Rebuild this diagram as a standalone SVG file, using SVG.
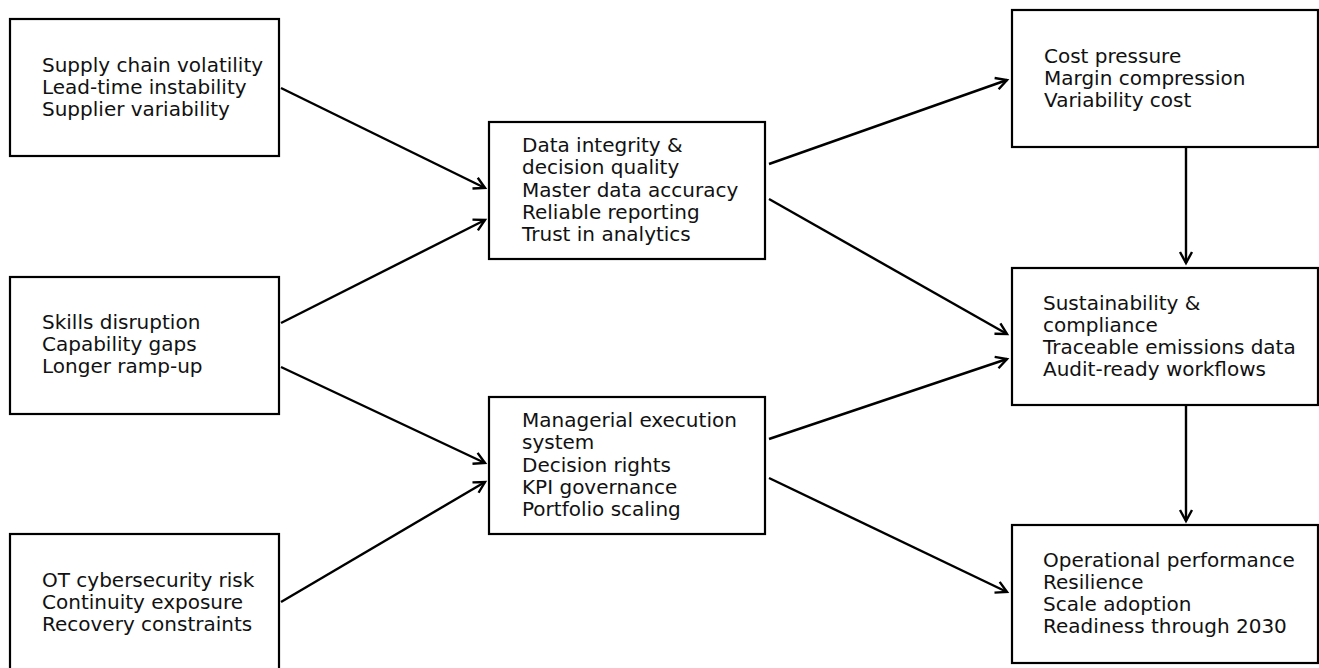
<svg xmlns="http://www.w3.org/2000/svg" width="1319" height="668" viewBox="0 0 1319 668">
<style>
.box{fill:#fff;stroke:#000;stroke-width:2.2}
.t{font-family:"DejaVu Sans",sans-serif;font-size:20px;fill:#111}
.c{stroke:#000;stroke-width:2.4;fill:none;marker-end:url(#ah)}
</style>
<defs>
<marker id="ah" markerUnits="userSpaceOnUse" markerWidth="16" markerHeight="16" refX="12" refY="8" orient="auto">
<path d="M1,2 L12,8 L1,14" fill="none" stroke="#000" stroke-width="2.4"/>
</marker>
</defs>
<rect width="1319" height="668" fill="#fff"/>
<g id="connectors">
<line class="c" x1="281" y1="88" x2="485" y2="188"/>
<line class="c" x1="281" y1="323" x2="485" y2="220"/>
<line class="c" x1="281" y1="367" x2="485" y2="463"/>
<line class="c" x1="281" y1="602" x2="485" y2="482"/>
<line class="c" x1="769" y1="164" x2="1007" y2="80"/>
<line class="c" x1="769" y1="199" x2="1007" y2="334"/>
<line class="c" x1="769" y1="439" x2="1007" y2="359"/>
<line class="c" x1="769" y1="478" x2="1007" y2="592"/>
<line class="c" x1="1186" y1="148" x2="1186" y2="263"/>
<line class="c" x1="1186" y1="406" x2="1186" y2="521"/>
</g>
<g id="n1">
<rect class="box" x="10" y="19" width="269" height="137"/>
<text class="t" x="42" y="72">Supply chain volatility</text>
<text class="t" x="42" y="94">Lead-time instability</text>
<text class="t" x="42" y="116">Supplier variability</text>
</g>
<g id="n2">
<rect class="box" x="10" y="277" width="269" height="137"/>
<text class="t" x="42" y="329">Skills disruption</text>
<text class="t" x="42" y="351">Capability gaps</text>
<text class="t" x="42" y="373">Longer ramp-up</text>
</g>
<g id="n3">
<rect class="box" x="10" y="534" width="269" height="140"/>
<text class="t" x="42" y="587">OT cybersecurity risk</text>
<text class="t" x="42" y="609">Continuity exposure</text>
<text class="t" x="42" y="631">Recovery constraints</text>
</g>
<g id="n4">
<rect class="box" x="489" y="122" width="276" height="137"/>
<text class="t" x="522" y="152">Data integrity &amp;</text>
<text class="t" x="522" y="174">decision quality</text>
<text class="t" x="522" y="196.5">Master data accuracy</text>
<text class="t" x="522" y="218.5">Reliable reporting</text>
<text class="t" x="522" y="241">Trust in analytics</text>
</g>
<g id="n5">
<rect class="box" x="489" y="397" width="276" height="137"/>
<text class="t" x="522" y="427">Managerial execution</text>
<text class="t" x="522" y="449">system</text>
<text class="t" x="522" y="471.5">Decision rights</text>
<text class="t" x="522" y="493.5">KPI governance</text>
<text class="t" x="522" y="516">Portfolio scaling</text>
</g>
<g id="n6">
<rect class="box" x="1012" y="10" width="306" height="137"/>
<text class="t" x="1044" y="63">Cost pressure</text>
<text class="t" x="1044" y="85">Margin compression</text>
<text class="t" x="1044" y="107">Variability cost</text>
</g>
<g id="n7">
<rect class="box" x="1012" y="268" width="306" height="137"/>
<text class="t" x="1043" y="310">Sustainability &amp;</text>
<text class="t" x="1043" y="332">compliance</text>
<text class="t" x="1043" y="354">Traceable emissions data</text>
<text class="t" x="1043" y="376">Audit-ready workflows</text>
</g>
<g id="n8">
<rect class="box" x="1012" y="525" width="306" height="138"/>
<text class="t" x="1043" y="567">Operational performance</text>
<text class="t" x="1043" y="589">Resilience</text>
<text class="t" x="1043" y="611">Scale adoption</text>
<text class="t" x="1043" y="633">Readiness through 2030</text>
</g>
</svg>
